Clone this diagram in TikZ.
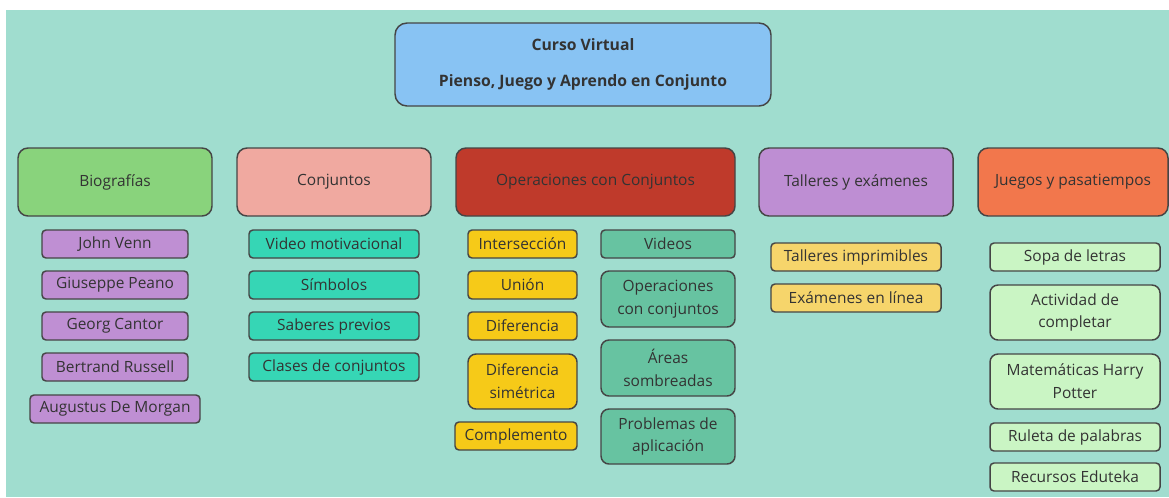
\documentclass[tikz,border=0pt]{standalone}
\usepackage{fontspec}
\setmainfont{Open Sans}
\definecolor{bg}{HTML}{A0DDCF}
\definecolor{topc}{HTML}{88C3F3}
\definecolor{bioc}{HTML}{89D37C}
\definecolor{conc}{HTML}{F0A9A0}
\definecolor{opc}{HTML}{BF3A2B}
\definecolor{talc}{HTML}{BE8ED3}
\definecolor{juec}{HTML}{F2774C}
\definecolor{purs}{HTML}{BF8FD3}
\definecolor{teas}{HTML}{36D6B5}
\definecolor{yels}{HTML}{F6CA18}
\definecolor{grns}{HTML}{67C3A1}
\definecolor{lyel}{HTML}{F6D56B}
\definecolor{lgrn}{HTML}{CAF5C4}
\definecolor{ink}{HTML}{333333}
\definecolor{edge}{HTML}{454545}
\newcommand\bxn[7]{\node[#2, minimum width={(#5-#3)*0.75pt}, minimum height={(#6-#4)*0.75pt}] (#1) at ({(#3+#5)/2},{(#4+#6)/2+1}) {#7};}
\tikzset{
  base/.style={draw=edge, line width=1.1pt, text=ink, inner sep=0pt, align=center, font=\fontsize{11.6}{17.2}\selectfont},
  mainbox/.style={base, rounded corners=7.5pt, font=\fontsize{11.6}{14}\selectfont},
  subbox/.style={base, rounded corners=3pt},
  twobox/.style={base, rounded corners=6pt},
}
\begin{document}
\begin{tikzpicture}[x=0.75pt,y=-0.75pt]
\fill[white] (0,0) rectangle (1169,497);
\fill[bg] (6,10) rectangle (1169,497);
\useasboundingbox (0,0) rectangle (1169,497);
% top
\bxn{top}{base, fill=topc, rounded corners=9pt, font=\bfseries\fontsize{11.8}{14}\selectfont}{395}{22}{771}{105}{Curso Virtual\\[13.5pt]Pienso, Juego y Aprendo en Conjunto}
% main categories
\bxn{bio}{mainbox, fill=bioc}{18}{147}{212}{215}{Biografías}
\bxn{con}{mainbox, fill=conc}{237}{147}{431}{215}{Conjuntos}
\bxn{ope}{mainbox, fill=opc}{456}{147}{735}{215}{Operaciones con Conjuntos}
\bxn{tal}{mainbox, fill=talc}{759}{147}{953}{215}{Talleres y exámenes}
\bxn{jue}{mainbox, fill=juec}{978}{147}{1168}{215}{Juegos y pasatiempos}
% biografias
\bxn{b1}{subbox, fill=purs}{42}{229}{188}{257}{John Venn}
\bxn{b2}{subbox, fill=purs}{42}{270}{188}{298}{Giuseppe Peano}
\bxn{b3}{subbox, fill=purs}{42}{311}{188}{339}{Georg Cantor}
\bxn{b4}{subbox, fill=purs}{42}{352}{188}{380}{Bertrand Russell}
\bxn{b5}{subbox, fill=purs}{30}{394}{200}{422}{Augustus De Morgan}
% conjuntos
\bxn{c1}{subbox, fill=teas}{249}{229}{419}{257}{Video motivacional}
\bxn{c2}{subbox, fill=teas}{249}{270}{419}{298}{Símbolos}
\bxn{c3}{subbox, fill=teas}{249}{311}{419}{339}{Saberes previos}
\bxn{c4}{subbox, fill=teas}{249}{352}{419}{380}{Clases de conjuntos}
% operaciones left
\bxn{o1}{subbox, fill=yels}{468}{229}{577}{257}{Intersección}
\bxn{o2}{subbox, fill=yels}{468}{270}{577}{298}{Unión}
\bxn{o3}{subbox, fill=yels}{468}{311}{577}{339}{Diferencia}
\bxn{o4}{twobox, fill=yels}{468}{353}{577}{408}{Diferencia\\simétrica}
\bxn{o5}{subbox, fill=yels}{455}{421}{577}{449}{Complemento}
% operaciones right
\bxn{v1}{subbox, fill=grns}{601}{229}{735}{257}{Videos}
\bxn{v2}{twobox, fill=grns}{601}{270}{735}{326}{Operaciones\\con conjuntos}
\bxn{v3}{twobox, fill=grns}{601}{339}{735}{395}{Áreas\\sombreadas}
\bxn{v4}{twobox, fill=grns}{601}{408}{735}{463}{Problemas de\\aplicación}
% talleres
\bxn{t1}{subbox, fill=lyel}{771}{242}{941}{270}{Talleres imprimibles}
\bxn{t2}{subbox, fill=lyel}{771}{283}{941}{311}{Exámenes en línea}
% juegos
\bxn{j1}{subbox, fill=lgrn}{990}{242}{1160}{270}{Sopa de letras}
\bxn{j2}{twobox, fill=lgrn}{990}{284}{1160}{339}{Actividad de\\completar}
\bxn{j3}{twobox, fill=lgrn}{990}{353}{1160}{408}{Matemáticas Harry\\Potter}
\bxn{j4}{subbox, fill=lgrn}{990}{422}{1160}{450}{Ruleta de palabras}
\bxn{j5}{subbox, fill=lgrn}{990}{462}{1160}{490}{Recursos Eduteka}
\end{tikzpicture}
\end{document}
